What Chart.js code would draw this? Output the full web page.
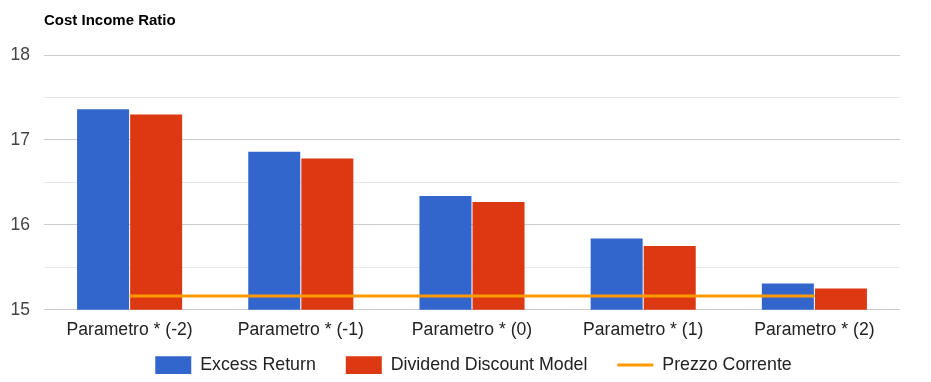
<!DOCTYPE html>
<html>
<head>
<meta charset="utf-8">
<script src="https://cdn.jsdelivr.net/npm/chart.js@4.4.1/dist/chart.umd.min.js"></script>
<style>
  html, body { margin: 0; padding: 0; background: #fff; }
  #wrap { position: relative; width: 931px; height: 382px; }
</style>
</head>
<body>
<div id="wrap"><canvas id="c" width="931" height="382"></canvas></div>
<script>
const chartTitle = "Cost Income Ratio";
const categories = ["Parametro * (-2)", "Parametro * (-1)", "Parametro * (0)", "Parametro * (1)", "Parametro * (2)"];
const seriesNames = ["Excess Return", "Dividend Discount Model", "Prezzo Corrente"];
const excessReturn = [17.36, 16.86, 16.34, 15.84, 15.31];
const dividendDiscountModel = [17.30, 16.78, 16.27, 15.75, 15.25];
const prezzoCorrente = [15.16, 15.16, 15.16, 15.16, 15.16];
const yMin = 15, yMax = 18, yStep = 0.5;

const FONT = '"Liberation Sans", Arial, sans-serif';

const titlePlugin = {
  id: 'leftTitle',
  afterDraw(chart) {
    const ctx = chart.ctx;
    ctx.save();
    ctx.font = 'bold 15px ' + FONT;
    ctx.fillStyle = '#000';
    ctx.textBaseline = 'alphabetic';
    ctx.textAlign = 'left';
    ctx.fillText(chartTitle, chart.chartArea.left, 25);
    ctx.restore();
  }
};

// Layout tweaks: let the category labels draw below the (compact) x-axis box,
// and centre the legend under the plot like the reference.
const layoutTweak = {
  id: 'layoutTweak',
  afterLayout(chart) {
    const xs = chart.scales.x;
    xs.bottom = xs.top + 40;
    xs.height = 40;
    const lg = chart.legend;
    lg.left += 16;
    lg.right += 31;
    lg.width = lg.right - lg.left;
    lg.top += 2;
    lg.bottom += 2;
  }
};

new Chart(document.getElementById('c'), {
  type: 'bar',
  data: {
    labels: categories,
    datasets: [
      { label: seriesNames[0], data: excessReturn, backgroundColor: '#3366cc', borderWidth: 0, order: 1,
        categoryPercentage: 0.62, barPercentage: 0.98 },
      { label: seriesNames[1], data: dividendDiscountModel, backgroundColor: '#dc3912', borderWidth: 0, order: 1,
        categoryPercentage: 0.62, barPercentage: 0.98 },
      { label: seriesNames[2], data: prezzoCorrente, type: 'line', borderColor: '#ff9900', backgroundColor: '#ff9900',
        borderWidth: 3, pointRadius: 0, pointHoverRadius: 0, fill: false, tension: 0, order: 0 }
    ]
  },
  options: {
    responsive: false,
    animation: false,
    layout: { padding: { top: 55, right: 31, bottom: 0, left: 0 } },
    plugins: {
      tooltip: { enabled: false },
      title: { display: false },
      legend: {
        position: 'bottom',
        labels: {
          usePointStyle: true,
          pointStyleWidth: 36,
          boxHeight: 18,
          padding: 30,
          color: '#222',
          font: { family: FONT, size: 17.8 },
          sort: (a, b) => a.datasetIndex - b.datasetIndex,
          generateLabels(chart) {
            const items = Chart.defaults.plugins.legend.labels.generateLabels(chart);
            return items.map(it => {
              const ds = chart.data.datasets[it.datasetIndex];
              if (ds.type === 'line') {
                it.pointStyle = 'line';
                it.strokeStyle = ds.borderColor;
                it.lineWidth = 3;
              } else {
                it.pointStyle = 'rect';
                it.lineWidth = 0;
              }
              it.fontColor = '#222';
              return it;
            });
          }
        }
      }
    },
    scales: {
      x: {
        grid: { display: false, drawTicks: false },
        border: { display: false },
        ticks: { color: '#222', font: { family: FONT, size: 17.6 }, padding: 10, maxRotation: 0, autoSkip: false },
        afterFit(scale) { scale.height = 14.5; }
      },
      y: {
        min: yMin, max: yMax,
        border: { display: false },
        grid: {
          drawTicks: false,
          color: ctx => (ctx.tick && Number.isInteger(ctx.tick.value)) ? '#cccccc' : '#e8e8e8',
          lineWidth: 1
        },
        ticks: {
          stepSize: yStep,
          padding: 14,
          color: '#444',
          font: { family: FONT, size: 17.5 },
          callback: v => Number.isInteger(v) ? String(v) : ''
        },
        afterFit(scale) { scale.width = 44; }
      }
    }
  },
  plugins: [titlePlugin, layoutTweak]
});
</script>
</body>
</html>
